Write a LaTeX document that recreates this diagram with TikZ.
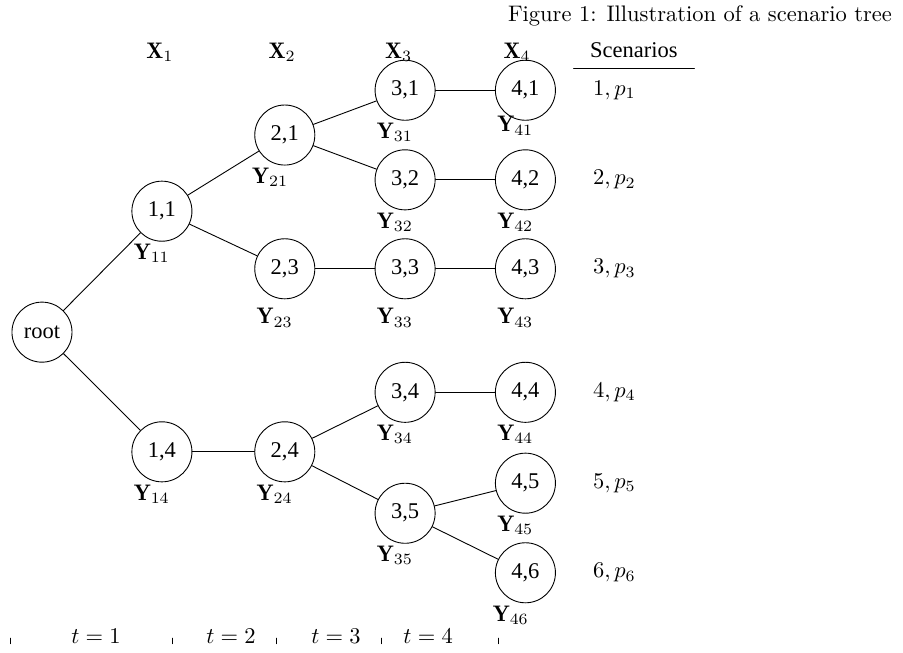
\documentclass[tikz,border=0pt]{standalone}
\usepackage{fontspec}
\newfontfamily\timesfont{Liberation Serif}
\usetikzlibrary{positioning}

\begin{document}
\begin{tikzpicture}[line cap=round, line join=round,
		state/.style={circle, draw, thin, minimum size=26.7pt, inner sep=1pt, font=\timesfont},
		ylabel/.style={label distance=-2.5pt, xshift=-4.5pt},
		ylab/.style={label={[ylabel]below:$\mathbf{Y}_{#1}$}},
		ylablow/.style={label={[ylabel, label distance=0.5pt]below:$\mathbf{Y}_{#1}$}}]
			% Fix picture size
			\useasboundingbox (0,0) rectangle (14.11,-10.19);
			
			% Stage columns
			\def\cA{2.53} \def\cB{4.45} \def\cC{6.33} \def\cD{8.21}
			
			% Title and headers
			\node[anchor=base east] (title) at (14.06,-0.34) {Figure 1: Illustration of a scenario tree};
			\node[anchor=base] (x1) at (2.50,-0.91) {$\mathbf{X}_1$};
			\node[anchor=base] (x2) at (4.41,-0.91) {$\mathbf{X}_2$};
			\node[anchor=base] (x3) at (6.23,-0.91) {$\mathbf{X}_3$};
			\node[anchor=base] (x4) at (8.08,-0.91) {$\mathbf{X}_4$};
			\node[anchor=base, font=\timesfont, inner xsep=0pt, inner ysep=4.4pt, minimum width=53.3pt] (scen) at (9.906,-0.906) {Scenarios};
			\draw (scen.south west) -- (scen.south east);
			
			% Tree nodes
			\node[state] (root) at (0.656,-5.19) {root};
			\node[state, ylab=11] (n11) at (\cA,-3.30) {1,1};
			\node[state, ylab=14] (n14) at (\cA,-7.06) {1,4};
			\node[state, label={[ylabel, xshift=-2pt]below:$\mathbf{Y}_{21}$}] (n21) at (\cB,-2.11) {2,1};
			\node[state, ylablow=23] (n23) at (\cB,-4.20) {2,3};
			\node[state, ylab=24] (n24) at (\cB,-7.06) {2,4};
			\node[state, ylab=31] (n31) at (\cC,-1.41) {3,1};
			\node[state, ylab=32] (n32) at (\cC,-2.81) {3,2};
			\node[state, ylablow=33] (n33) at (\cC,-4.20) {3,3};
			\node[state, ylab=34] (n34) at (\cC,-6.13) {3,4};
			\node[state, ylab=35] (n35) at (\cC,-8.02) {3,5};
			\node[state, label={[ylabel, label distance=-5.5pt]below:$\mathbf{Y}_{41}$}] (n41) at (\cD,-1.41) {4,1};
			\node[state, ylab=42] (n42) at (\cD,-2.81) {4,2};
			\node[state, ylablow=43] (n43) at (\cD,-4.20) {4,3};
			\node[state, ylab=44] (n44) at (\cD,-6.13) {4,4};
			\node[state, ylab=45] (n45) at (\cD,-7.55) {4,5};
			\node[state, label={[ylabel, xshift=-2pt]below:$\mathbf{Y}_{46}$}] (n46) at (\cD,-8.95) {4,6};
			
			% Branches
			\foreach \a/\b in {root/n11, root/n14, n11/n21, n11/n23, n14/n24,
				n21/n31, n21/n32, n23/n33, n24/n34, n24/n35,
				n31/n41, n32/n42, n33/n43, n34/n44, n35/n45, n35/n46}
				\draw (\a) -- (\b);
			
			% Scenarios and probabilities
			\foreach \i in {1,...,6}
				\node[right=13pt of n4\i] (s\i) {$\i, p_\i$};
			
			% Time stages
			\foreach \x in {0.156, 2.69, 4.31, 5.95, 7.78}
				\draw[very thin] (\x,-9.97) -- (\x,-10.06);
			\node[anchor=base] (t1) at (1.50,-10.05) {$t=1$};
			\node[anchor=base] (t2) at (3.61,-10.05) {$t=2$};
			\node[anchor=base] (t3) at (5.25,-10.05) {$t=3$};
			\node[anchor=base] (t4) at (6.69,-10.05) {$t=4$};
		\end{tikzpicture}
\end{document}
